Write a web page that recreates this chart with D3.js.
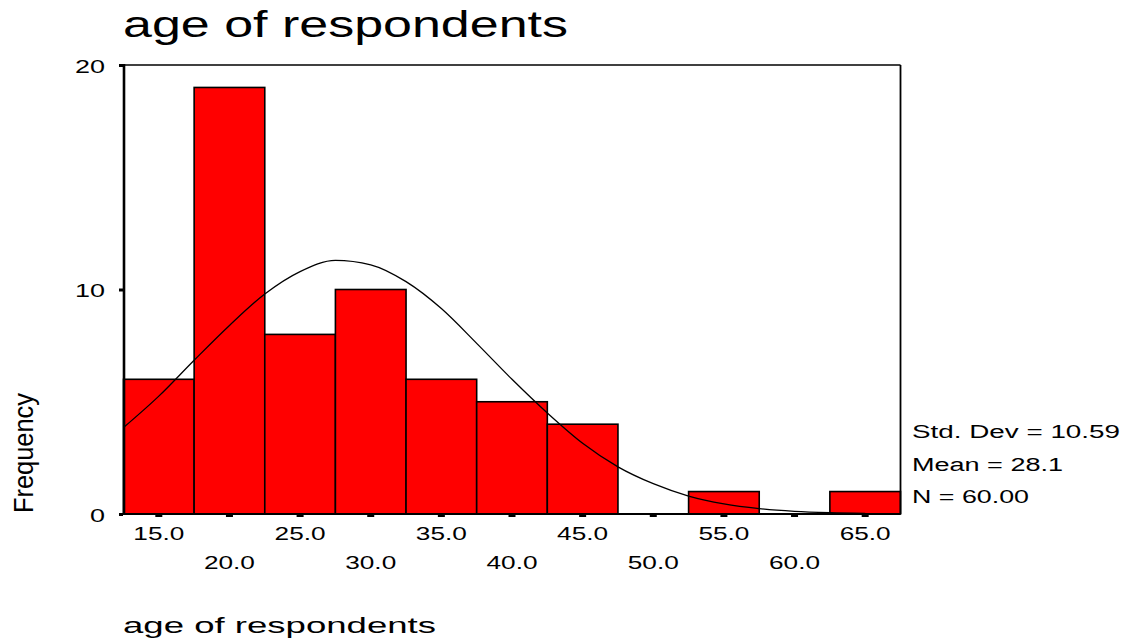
<!DOCTYPE html>
<html>
<head>
<meta charset="utf-8">
<script src="https://cdn.jsdelivr.net/npm/d3@7/dist/d3.min.js"></script>
<style>
  html, body { margin: 0; padding: 0; background: #fff; }
  svg { display: block; }
  text { font-family: "Liberation Sans", Arial, sans-serif; fill: #000; }
</style>
</head>
<body>
<script>
// ---- data ----
const binCenters = [15, 20, 25, 30, 35, 40, 45, 50, 55, 60, 65];
const frequencies = [6, 19, 8, 10, 6, 5, 4, 0, 1, 0, 1];
const binWidth = 5;
const curveX = [12.5, 15, 17.5, 20, 22.5, 25, 27.5, 30, 32.5, 35, 37.5, 40, 42.5, 45, 47.5, 50, 52.5, 55, 57.5, 60, 62.5, 65];
const curveY = [3.85, 5.25, 6.85, 8.4, 9.8, 10.8, 11.3, 11.1, 10.35, 9.15, 7.6, 6.0, 4.5, 3.15, 2.1, 1.35, 0.8, 0.45, 0.24, 0.12, 0.06, 0.03];
const yTicks = [0, 10, 20];
const xLabelsRow1 = ["15.0", "25.0", "35.0", "45.0", "55.0", "65.0"];
const xLabelsRow2 = ["20.0", "30.0", "40.0", "50.0", "60.0"];
const statsLines = ["Std. Dev = 10.59", "Mean = 28.1", "N = 60.00"];
const titleText = "age of respondents";
const xTitle = "age of respondents";
const yTitle = "Frequency";

// ---- layout ----
const W = 1129, H = 642;
const svg = d3.select("body").append("svg").attr("width", W).attr("height", H);

const x = d3.scaleLinear().domain([12.5, 67.5]).range([123.5, 900.5]);
const y = d3.scaleLinear().domain([0, 20]).range([514, 65]);

// bars
svg.append("g").selectAll("rect").data(binCenters).join("rect")
  .attr("x", (d) => x(d - binWidth / 2))
  .attr("width", (d) => x(d + binWidth / 2) - x(d - binWidth / 2))
  .attr("y", (d, i) => y(frequencies[i]))
  .attr("height", (d, i) => y(0) - y(frequencies[i]))
  .attr("fill", (d, i) => frequencies[i] > 0 ? "#ff0000" : "none")
  .attr("stroke", (d, i) => frequencies[i] > 0 ? "#000" : "none")
  .attr("stroke-width", 1.6);

// frame
svg.append("line").attr("x1", x.range()[0]).attr("x2", x.range()[1]).attr("y1", 65).attr("y2", 65)
  .attr("stroke", "#000").attr("stroke-width", 1.5);
svg.append("line").attr("x1", x.range()[1]).attr("x2", x.range()[1]).attr("y1", 65).attr("y2", 514)
  .attr("stroke", "#000").attr("stroke-width", 1.8);
svg.append("line").attr("x1", x.range()[0]).attr("x2", x.range()[1]).attr("y1", 514).attr("y2", 514)
  .attr("stroke", "#000").attr("stroke-width", 1.8);
svg.append("line").attr("x1", 124).attr("x2", 124).attr("y1", 64).attr("y2", 515)
  .attr("stroke", "#000").attr("stroke-width", 2.6);

// normal curve
const line = d3.line().x((d, i) => x(curveX[i])).y((d) => y(d)).curve(d3.curveMonotoneX);
svg.append("path").datum(curveY).attr("d", line)
  .attr("fill", "none").attr("stroke", "#000").attr("stroke-width", 1.3);

// y axis ticks and labels
const yAxis = d3.axisLeft(y).tickValues(yTicks).tickSize(4).tickFormat(d3.format("d"));
const gy = svg.append("g").attr("transform", "translate(123,0)").call(yAxis);
gy.select(".domain").remove();
gy.selectAll(".tick line").attr("stroke", "#000").attr("stroke-width", 3);
gy.selectAll(".tick text")
  .attr("x", -18).attr("dy", null).attr("y", 7)
  .attr("font-size", 18).attr("font-family", "Liberation Sans, Arial, sans-serif")
  .attr("fill", "#000")
  .attr("textLength", (d) => String(d).length * 15)
  .attr("lengthAdjust", "spacingAndGlyphs");

// x ticks (short dashes below axis at bin centers)
svg.append("g").selectAll("rect").data(binCenters).join("rect")
  .attr("x", (d) => x(d) - 3.5).attr("y", 515).attr("width", 7).attr("height", 2)
  .attr("fill", "#000");

// x labels (two staggered rows)
const xl = svg.append("g");
xl.selectAll("text.r1").data(xLabelsRow1).join("text").attr("class", "r1")
  .attr("x", (d) => x(+d)).attr("y", 540).attr("text-anchor", "middle")
  .attr("font-size", 18).attr("textLength", 51).attr("lengthAdjust", "spacingAndGlyphs")
  .text((d) => d);
xl.selectAll("text.r2").data(xLabelsRow2).join("text").attr("class", "r2")
  .attr("x", (d) => x(+d)).attr("y", 569).attr("text-anchor", "middle")
  .attr("font-size", 18).attr("textLength", 51).attr("lengthAdjust", "spacingAndGlyphs")
  .text((d) => d);

// title
svg.append("text").attr("x", 123).attr("y", 37).attr("font-size", 36)
  .attr("textLength", 445).attr("lengthAdjust", "spacingAndGlyphs").text(titleText);

// x axis title
svg.append("text").attr("x", 123).attr("y", 633).attr("font-size", 22)
  .attr("textLength", 313).attr("lengthAdjust", "spacingAndGlyphs").text(xTitle);

// y axis title
svg.append("text").attr("transform", "translate(33,513) rotate(-90)")
  .attr("x", 0).attr("y", 0).attr("font-size", 28)
  .attr("textLength", 120).attr("lengthAdjust", "spacingAndGlyphs").text(yTitle);

// stats
const statsBaselines = [438, 471, 503];
const statsWidths = [208, 151, 117];
svg.append("g").selectAll("text").data(statsLines).join("text")
  .attr("x", 912).attr("y", (d, i) => statsBaselines[i]).attr("font-size", 18)
  .attr("textLength", (d, i) => statsWidths[i]).attr("lengthAdjust", "spacingAndGlyphs")
  .text((d) => d);
</script>
</body>
</html>
